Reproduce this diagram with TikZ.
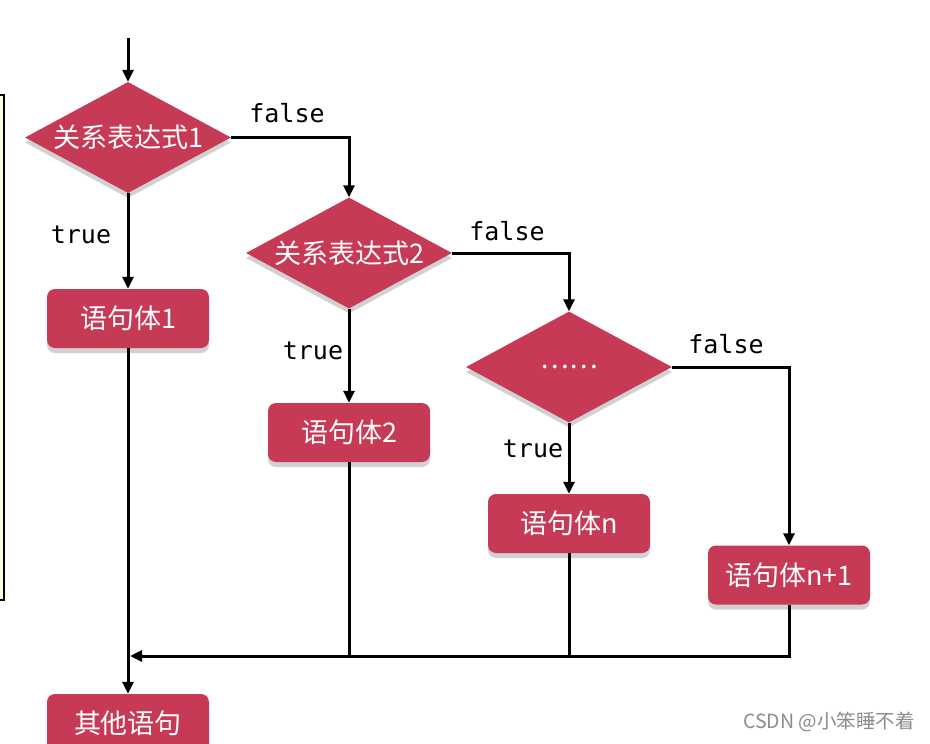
\documentclass[tikz,border=0pt]{standalone}
\usepackage{fontspec}
\newfontfamily\cjk{Noto Sans CJK SC}
\newfontfamily\monof{DejaVu Sans Mono}
\usetikzlibrary{shapes.geometric,arrows.meta,shadows}
\definecolor{crim}{RGB}{199,58,86}
\definecolor{paleyel}{RGB}{255,253,225}
\tikzset{
  x=1pt,y=-1pt,
  conn/.style={line width=3pt,draw=black},
  arr/.style={line width=3pt,draw=black,-{Triangle[length=12pt,width=11pt]}},
  shad/.style={drop shadow={opacity=0.18,shadow xshift=0pt,shadow yshift=-5pt,fill=black}},
  cond/.style={diamond,fill=crim,draw=none,inner sep=0pt,minimum width=206pt,minimum height=111pt,shad},
  stmt/.style={rectangle,rounded corners=8pt,fill=crim,draw=none,minimum width=162pt,minimum height=59pt,inner sep=0pt,shad,text=white,font=\cjk\fontsize{27}{30}\selectfont},
  ctext/.style={text=white,font=\cjk\fontsize{27}{30}\selectfont},
  tf/.style={font=\monof\fontsize{25}{28}\selectfont,text=black},
}
\begin{document}
\begin{tikzpicture}
\clip (0,0) rectangle (930,744);
\fill[white] (0,0) rectangle (930,744);
% partial side box
\filldraw[fill=paleyel,draw=black,line width=1.8pt] (-20,95) rectangle (4,600);

\node[cond,label={[ctext]center:关系表达式1}] (d1) at (128,137.5) {};
\node[cond,label={[ctext]center:关系表达式2}] (d2) at (349,253) {};
\node[cond,label={[ctext]center:……}] (d3) at (569,367) {};

\node[stmt] (b1) at (128,318.5) {语句体1};
\node[stmt] (b2) at (349,432.5) {语句体2};
\node[stmt] (bn) at (569,523.5) {语句体n};
\node[stmt] (bn1) at (789,575) {语句体n+1};
\node[stmt] (other) at (128,723.5) {其他语句};

\coordinate (start) at (128,38);
\coordinate (m) at (130,656);

\draw[arr] (start) -- (d1.north);
\draw[arr] (d1.east) -| (d2.north);
\draw[arr] (d2.east) -| (d3.north);
\draw[arr] (d3.east) -| (bn1.north);
\draw[arr] (d1.south) -- (b1.north);
\draw[arr] (d2.south) -- (b2.north);
\draw[arr] (d3.south) -- (bn.north);

\draw[arr] (bn1.south) |- (m);
\draw[conn] (b2.south) -- (b2.south |- m);
\draw[conn] (bn.south) -- (bn.south |- m);
\draw[arr] (b1.south) -- (other.north);

\node[tf] (f1) at (287,113) {false};
\node[tf] (f2) at (507,231) {false};
\node[tf] (f3) at (726,344) {false};
\node[tf] (t1) at (81,235) {true};
\node[tf] (t2) at (313,351) {true};
\node[tf] (t3) at (533,449) {true};

\node[text=black!45,font=\cjk\fontsize{19.5}{22}\selectfont] (wm) at (829,722) {CSDN @小笨睡不着};
\end{tikzpicture}
\end{document}
